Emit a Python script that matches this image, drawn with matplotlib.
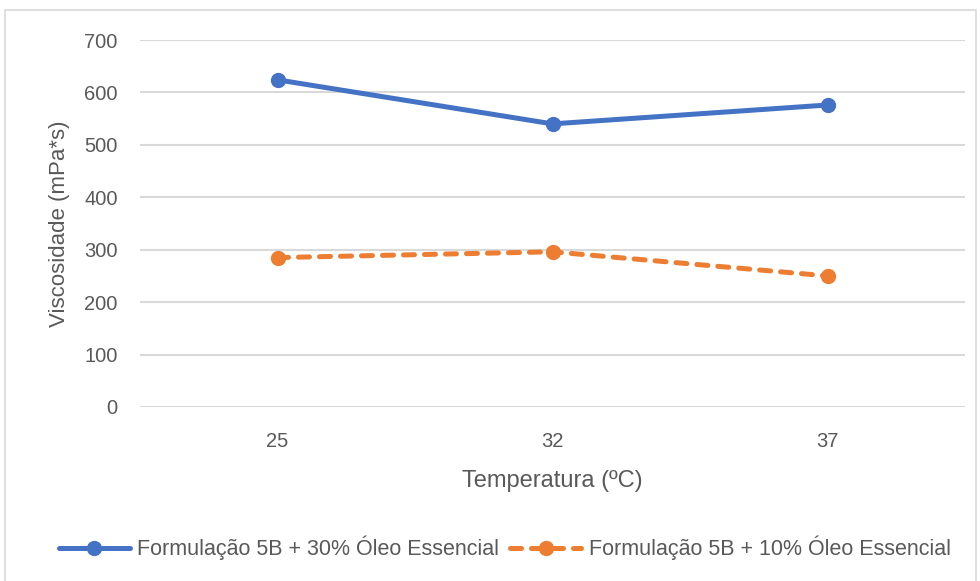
import matplotlib.pyplot as plt
from matplotlib.patches import Rectangle

# data
temperaturas = ['25', '32', '37']
visc_30 = [624, 540, 576]
visc_10 = [285, 296, 250]
label_30 = 'Formulação 5B + 30% Óleo Essencial'
label_10 = 'Formulação 5B + 10% Óleo Essencial'
y_ticks = [0, 100, 200, 300, 400, 500, 600, 700]

plt.rcParams['font.family'] = ['Liberation Sans', 'DejaVu Sans']

cinza = '#595959'
azul = '#4472C4'
laranja = '#ED7D31'

fig = plt.figure(figsize=(9.8, 5.81), dpi=100)
# chart area border
fig.patches.append(Rectangle((5 / 980, -0.05), 971 / 980, 1.05 - 10 / 581,
                             transform=fig.transFigure, fill=False,
                             edgecolor='#D9D9D9', linewidth=1.2))

ax = fig.add_axes([140 / 980, 1 - 407 / 581, 825 / 980, 367 / 581])
x = range(len(temperaturas))

ax.plot(x, visc_30, color=azul, linewidth=3.6, marker='o', markersize=10,
        label=label_30, solid_capstyle='round')
ax.plot(x, visc_10, color=laranja, linewidth=3.6, marker='o', markersize=10,
        linestyle=(0, (2.2, 2.0)), dash_capstyle='round', label=label_10)

ax.set_xlim(-0.5, 2.5)
ax.set_ylim(0, 700)
ax.set_yticks(y_ticks)
ax.set_xticks(list(x))
ax.set_xticklabels(temperaturas)
ax.yaxis.grid(True, color='#D9D9D9', linewidth=1.5)
ax.set_axisbelow(True)
for s in ax.spines.values():
    s.set_visible(False)
ax.tick_params(length=0, labelsize=14.5, colors=cinza, pad=16)
ax.tick_params(axis='x', pad=18)

ax.set_xlabel('Temperatura (ºC)', fontsize=17, color=cinza, labelpad=14)
ax.set_ylabel('Viscosidade (mPa*s)', fontsize=16, color=cinza, labelpad=10)

fig.legend(loc='center', bbox_to_anchor=(0.515, 1 - 548 / 581), ncol=2,
           frameon=False, fontsize=15.5, labelcolor=cinza, handlelength=3.3,
           columnspacing=0.5, handletextpad=0.35)

fig.savefig('out.png', dpi=100)
